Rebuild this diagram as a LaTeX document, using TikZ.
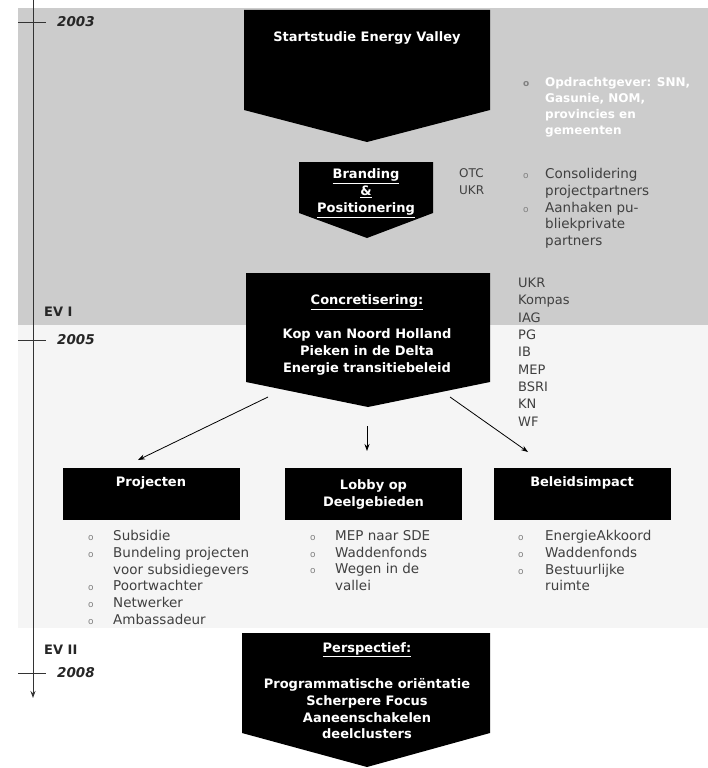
\documentclass[tikz,border=0pt]{standalone}
\usepackage{fontspec}
\setmainfont{DejaVu Sans}
\usetikzlibrary{arrows.meta,positioning}

% vijfhoekige pijl: links, rechts, boven, zijkant onder, punt x, punt y
\newcommand{\pijlvorm}[6]{\fill (#1,#3) -- (#2,#3) -- (#2,#4) -- (#5,#6) -- (#1,#4) -- cycle;}
\newcommand{\bol}[1]{\makebox[#1][l]{\textcolor{black!50}{\fontsize{9}{9}\selectfont o}}}

\tikzset{
  kop/.style={text=white,font=\fontsize{13}{17}\selectfont\bfseries,align=center,inner sep=0pt},
  blok/.style={fill=black,text=white,font=\fontsize{13}{17}\selectfont\bfseries,align=center,minimum width=177pt,minimum height=52pt},
  lijst/.style={text=black!75,font=\fontsize{13.5}{16.8}\selectfont,align=left,anchor=north west,inner sep=0pt},
  jaartal/.style={font=\fontsize{13.5}{16}\selectfont\bfseries\itshape,anchor=west,text=black!85,inner sep=0pt},
  fase/.style={font=\fontsize{13}{16}\selectfont\bfseries,anchor=west,text=black!85,inner sep=0pt},
  tijd/.style={line width=0.9pt,black!80},
  verbind/.style={line width=0.8pt,-{Stealth[length=7pt,width=5pt]}},
}

\begin{document}
\begin{tikzpicture}[x=1pt,y=-1pt]
  \useasboundingbox (0,0) rectangle (708,768);
  \fill[black!20] (18,8) rectangle (708,325);
  \fill[black!4] (18,325) rectangle (708,628);

  % tijdlijn
  \coordinate (t-boven) at (33,0);
  \coordinate (t-onder) at (33,698);
  \draw[tijd,-{Stealth[length=7pt,width=5pt]}] (t-boven) -- (t-onder);
  \foreach \y/\jaar in {22/2003,340/2005,673/2008}{
    \draw[tijd] (18,\y) -- (46,\y);
    \node[jaartal] (j\jaar) at (57,\y) {\jaar};
  }
  \node[fase] (ev1) at (44,312) {EV I};
  \node[fase] (ev2) at (44,650) {EV II};

  % pijlvormen
  \pijlvorm{244}{490}{10}{110}{367}{142}
  \pijlvorm{299}{433}{162}{213}{367}{238}
  \pijlvorm{246}{490}{273}{382}{368}{407}
  \pijlvorm{242}{490}{633}{733}{367}{767}

  \node[kop] (start) at (367,38) {Startstudie Energy Valley};
  \node[kop] (brand) at (366,193) {\underline{Branding}\\\underline{\&}\\\underline{Positionering}};
  \node[kop] (conc-kop) at (367,302) {\underline{Concretisering:}};
  \node[kop] (conc) at (367,352) {Kop van Noord Holland\\Pieken in de Delta\\Energie transitiebeleid};
  \node[kop] (persp-kop) at (367,650) {\underline{Perspectief:}};
  \node[kop,font=\fontsize{13}{16.7}\selectfont\bfseries] (persp) at (367,709) {Programmatische ori\"entatie\\Scherpere Focus\\Aaneenschakelen\\deelclusters};

  % partners en toelichting
  \node[lijst,font=\fontsize{12}{17}\selectfont] (partners1) at (459,168) {OTC\\UKR};
  \node[lijst,text=white,font=\fontsize{12}{16}\selectfont\bfseries] (wit) at (523,77) {\bol{22pt}Opdrachtgever: SNN,\\\hspace*{22pt}Gasunie, NOM,\\\hspace*{22pt}provincies en\\\hspace*{22pt}gemeenten};
  \node[lijst] (doel) at (523,168) {\bol{22pt}Consolidering\\\hspace*{22pt}projectpartners\\\bol{22pt}Aanhaken pu-\\\hspace*{22pt}bliekprivate\\\hspace*{22pt}partners};
  \node[lijst,font=\fontsize{13}{17.3}\selectfont] (partners2) at (518,278) {UKR\\Kompas\\IAG\\PG\\IB\\MEP\\BSRI\\KN\\WF};

  % drie sporen
  \node[blok] (proj) at (151,494) {Projecten\\[8pt]};
  \node[blok] (lobby) at (373.5,494) {Lobby op\\Deelgebieden};
  \node[blok] (beleid) at (582,494) {Beleidsimpact\\[8pt]};

  \coordinate (conc-l) at (268,397);
  \coordinate (conc-m) at (367,426);
  \coordinate (conc-r) at (450,397);
  \coordinate (proj-in) at (138,460);
  \coordinate (lobby-in) at (367,451);
  \coordinate (beleid-in) at (528,452);
  \draw[verbind] (conc-l) -- (proj-in);
  \draw[verbind] (conc-m) -- (lobby-in);
  \draw[verbind] (conc-r) -- (beleid-in);

  \node[lijst] (proj-lijst) at (88,530) {\bol{25pt}Subsidie\\\bol{25pt}Bundeling projecten\\\hspace*{25pt}voor subsidiegevers\\\bol{25pt}Poortwachter\\\bol{25pt}Netwerker\\\bol{25pt}Ambassadeur};
  \node[lijst] (lobby-lijst) at (310,530) {\bol{25pt}MEP naar SDE\\\bol{25pt}Waddenfonds\\\bol{25pt}Wegen in de\\\hspace*{25pt}vallei};
  \node[lijst] (beleid-lijst) at (518,530) {\bol{27pt}EnergieAkkoord\\\bol{27pt}Waddenfonds\\\bol{27pt}Bestuurlijke\\\hspace*{27pt}ruimte};
\end{tikzpicture}
\end{document}
